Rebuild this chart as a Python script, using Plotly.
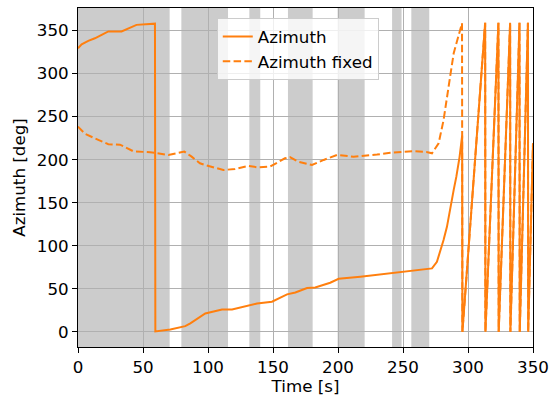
import plotly.graph_objects as go

# --- data -------------------------------------------------------------
t_az = [0, 2.8, 7.9, 13, 18.2, 23.3, 33.5, 38.7, 45, 59.2, 59.5, 71, 82.5, 86.4,
        97.9, 110.8, 118.5, 137.7, 149.2, 160.8, 167.2, 176.2, 182.5, 194, 200.5,
        217.2, 237.7, 260.8, 272.3, 276.1, 278.7, 281.2, 283.8, 286.4, 289, 291,
        293.5, 295.5, 295.7, 313.2, 313.4, 323.4, 323.6, 332.4, 332.6, 339.6,
        339.8, 346.1, 346.3, 350]
az = [329.5, 334, 338, 341, 345, 349, 349, 352.8, 356.6, 358, 0.5, 2.8, 6.6, 9.8,
      21.4, 26, 26, 33, 35, 43.5, 45.8, 51, 51.6, 57, 61.6,
      64, 67.9, 71.7, 73.7, 81.4, 93, 106.6, 122, 145, 165, 180,
      203, 228, 0, 359, 0, 359, 0, 359, 0, 359,
      0, 359, 0, 219]

t_fix = [0, 5.4, 15.6, 23.3, 32.3, 42.5, 55.4, 59.2, 69.5, 81.8, 87.4, 93.8, 97.7,
         111.8, 120.8, 131, 138.7, 147.7, 159.2, 163, 169.5, 177, 180, 189, 199.2,
         212, 219.7, 230, 240.2, 258.2, 268, 272.3, 277.4, 281.2, 285.1, 289,
         295.4, 295.7]
az_fix = [238.4, 230, 223, 218, 217.4, 209.8, 208.6, 208, 205.5, 209.4, 203.5,
          195.8, 193.8, 188, 189.2, 192.7, 191, 191.9, 201.6, 203, 197.7, 195,
          193.8, 199.7, 205.5, 203.5, 204.3, 206, 208, 210, 209, 207.4, 219, 246,
          285, 323.7, 358.6, 0]
# after the wrap the fixed curve coincides with the raw azimuth
t_fix = t_fix + [t for t in t_az if t > 295.7]
az_fix = az_fix + [a for t, a in zip(t_az, az) if t > 295.7]

span_start = [0, 79.5, 131.8, 161.5, 199.7, 241.6, 256.4]
span_end = [70.5, 115.4, 140.2, 180.5, 220.5, 248.9, 270.2]

x_ticks = [0, 50, 100, 150, 200, 250, 300, 350]
y_ticks = [0, 50, 100, 150, 200, 250, 300, 350]

ORANGE = "#ff7f0e"
FONT = "DejaVu Sans"
FS = 16.7

fig = go.Figure()
fig.add_trace(go.Scatter(x=t_az, y=az, mode="lines", name="Azimuth",
                         line=dict(color=ORANGE, width=2)))
fig.add_trace(go.Scatter(x=t_fix, y=az_fix, mode="lines", name="Azimuth fixed",
                         line=dict(color=ORANGE, width=2, dash="7.5px,3.3px")))

for s, e in zip(span_start, span_end):
    fig.add_shape(type="rect", xref="x", yref="paper", x0=s, x1=e, y0=0, y1=1,
                  fillcolor="#cccccc", line=dict(width=0), layer="below")

axis_common = dict(
    showline=True, linecolor="black", linewidth=1, mirror=True,
    ticks="outside", ticklen=5, tickwidth=1, tickcolor="black",
    showgrid=True, gridcolor="#b0b0b0", gridwidth=1, zeroline=False,
    tickfont=dict(family=FONT, size=FS, color="black"),
    automargin=False,
)

fig.update_layout(
    width=550, height=396,
    margin=dict(l=78, r=17, t=8, b=49),
    paper_bgcolor="white", plot_bgcolor="white",
    font=dict(family=FONT, size=FS, color="black"),
    xaxis=dict(range=[0, 350], tickvals=x_ticks,
               title=dict(text="Time [s]", standoff=2,
                          font=dict(family=FONT, size=FS)), **axis_common),
    yaxis=dict(range=[-17.6, 376.2], tickvals=y_ticks,
               title=dict(text="Azimuth [deg]", standoff=6,
                          font=dict(family=FONT, size=FS)), **axis_common),
    legend=dict(x=0.305, y=0.97, xanchor="left", yanchor="top",
                bgcolor="rgba(255,255,255,0.8)", bordercolor="#cccccc",
                borderwidth=1, font=dict(family=FONT, size=FS),
                tracegroupgap=0),
    showlegend=True,
)

fig.write_html("out.html")
